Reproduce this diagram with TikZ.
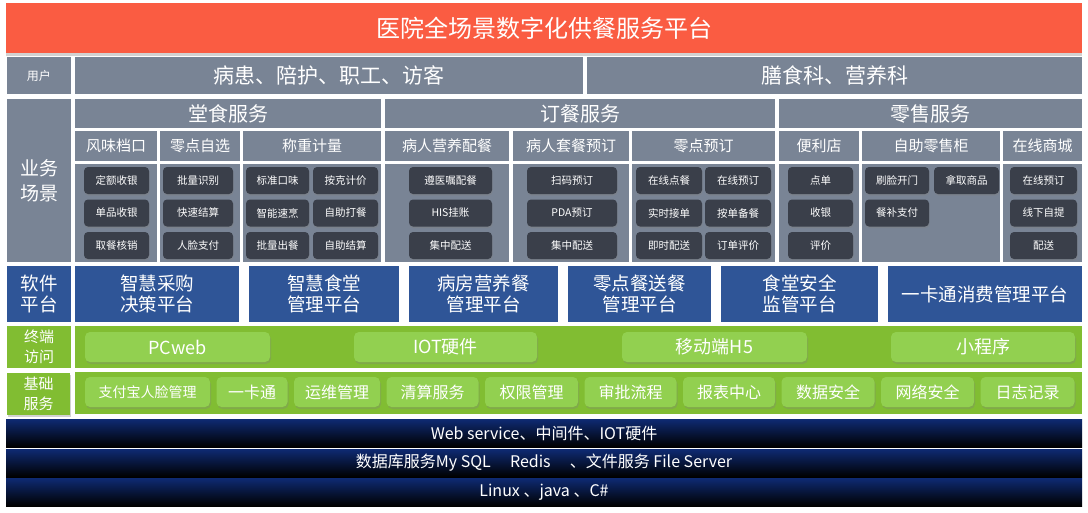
\documentclass[tikz,border=0pt]{standalone}
\usepackage{fontspec}
\setmainfont{Noto Sans CJK SC}
\usepackage{xcolor}
\usepackage{tikz}
\usetikzlibrary{positioning,shadows}

\definecolor{titlered}{RGB}{250,92,66}
\definecolor{slate}{RGB}{121,132,149}
\definecolor{darkbtn}{RGB}{58,63,74}
\definecolor{platblue}{RGB}{47,85,151}
\definecolor{leafgreen}{RGB}{129,189,50}
\definecolor{lightgreen}{RGB}{146,208,80}
\definecolor{navytop}{RGB}{14,42,115}

\newcommand\fsz[2]{\fontsize{#1}{#2}\selectfont}

\begin{document}
\begin{tikzpicture}[x=1pt, y=-1pt,
    cell/.style={inner sep=0pt, outer sep=0pt, anchor=north west,
                 text=white, align=center},
    wh/.style 2 args={minimum width=#1pt, minimum height=#2pt},
    ttl/.style={cell, fill=titlered, font=\fsz{24}{28},
                drop shadow={shadow xshift=0pt, shadow yshift=-2.5pt, opacity=0.35}},
    gry/.style={cell, fill=slate},
    hdr/.style={gry, font=\fsz{20}{24}},
    sub/.style={gry, font=\fsz{15}{18}},
    dbtn/.style={cell, fill=darkbtn, rounded corners=4pt, font=\fsz{10.5}{12},
                 drop shadow={shadow xshift=0.5pt, shadow yshift=-1.5pt, opacity=0.4}},
    plat/.style={cell, fill=platblue, font=\fsz{18.5}{21}},
    greenrow/.style={cell, fill=leafgreen, font=\fsz{15}{20}},
    gbtn/.style={cell, fill=lightgreen, rounded corners=5pt, font=\fsz{16}{19},
                 drop shadow={shadow xshift=1pt, shadow yshift=-2pt, opacity=0.3}},
    base/.style={cell, top color=navytop, middle color=black, bottom color=black,
                 font=\fsz{16}{19}}
  ]
  \useasboundingbox[fill=white] (0,0) rectangle (1088,512);

  % title
  \node[ttl, wh={1076}{50}] (title) at (6,3) {医院全场景数字化供餐服务平台};

  % users
  \node[gry, wh={64}{37}, font=\fsz{12}{14}] (userlbl) at (7,57) {用户};
  \node[hdr, wh={508}{37}, font=\fsz{21}{25}] (patients) at (75,57) {病患、陪护、职工、访客};
  \node[hdr, wh={495}{37}, font=\fsz{21}{25}] (dietary) at (587,57) {膳食科、营养科};

  % business scenes
  \node[gry, wh={64}{163}, font=\fsz{19}{25}] (bizlbl) at (7,99) {业务\\场景};
  \node[hdr, wh={306}{29}] (dine) at (75,99) {堂食服务};
  \node[hdr, wh={390}{29}] (order) at (385,99) {订餐服务};
  \node[hdr, wh={303}{29}] (retail) at (779,99) {零售服务};

  \node[sub, wh={82}{30}] (flavor) at (75,131) {风味档口};
  \node[sub, wh={80}{30}] (snack) at (160,131) {零点自选};
  \node[sub, wh={138}{30}] (weigh) at (243,131) {称重计量};
  \node[sub, wh={124}{30}] (nutri) at (385,131) {病人营养配餐};
  \node[sub, wh={116}{30}] (setmeal) at (513,131) {病人套餐预订};
  \node[sub, wh={143}{30}] (snackord) at (632,131) {零点预订};
  \node[sub, wh={80}{30}] (store) at (779,131) {便利店};
  \node[sub, wh={138}{30}] (locker) at (862,131) {自助零售柜};
  \node[sub, wh={79}{30}] (mall) at (1003,131) {在线商城};

  \node[gry, wh={82}{98}] (flavorbg) at (75,164) {};
  \node[gry, wh={80}{98}] (snackbg) at (160,164) {};
  \node[gry, wh={138}{98}] (weighbg) at (243,164) {};
  \node[gry, wh={124}{98}] (nutribg) at (385,164) {};
  \node[gry, wh={116}{98}] (setmealbg) at (513,164) {};
  \node[gry, wh={143}{98}] (snackordbg) at (632,164) {};
  \node[gry, wh={80}{98}] (storebg) at (779,164) {};
  \node[gry, wh={138}{98}] (lockerbg) at (862,164) {};
  \node[gry, wh={79}{98}] (mallbg) at (1003,164) {};

  % scene buttons
  \node[dbtn, wh={65}{27}] (fw1) at (84,167) {定额收银};
  \node[dbtn, wh={65}{27}, below=5.5pt of fw1] (fw2) {单品收银};
  \node[dbtn, wh={65}{27}, below=5.5pt of fw2] (fw3) {取餐核销};

  \node[dbtn, wh={70}{27}] (lz1) at (163,167) {批量识别};
  \node[dbtn, wh={70}{27}, below=5.5pt of lz1] (lz2) {快速结算};
  \node[dbtn, wh={70}{27}, below=5.5pt of lz2] (lz3) {人脸支付};

  \node[dbtn, wh={63}{27}] (cz1) at (246,167) {标准口味};
  \node[dbtn, wh={63}{27}, below=5.5pt of cz1] (cz2) {智能速烹};
  \node[dbtn, wh={63}{27}, below=5.5pt of cz2] (cz3) {批量出餐};
  \node[dbtn, wh={65}{27}] (cz4) at (313,167) {按克计价};
  \node[dbtn, wh={65}{27}, below=5.5pt of cz4] (cz5) {自助打餐};
  \node[dbtn, wh={65}{27}, below=5.5pt of cz5] (cz6) {自助结算};

  \node[dbtn, wh={83}{27}] (by1) at (409,167) {遵医嘱配餐};
  \node[dbtn, wh={83}{27}, below=5.5pt of by1] (by2) {HIS挂账};
  \node[dbtn, wh={83}{27}, below=5.5pt of by2] (by3) {集中配送};

  \node[dbtn, wh={90}{27}] (bt1) at (527,167) {扫码预订};
  \node[dbtn, wh={90}{27}, below=5.5pt of bt1] (bt2) {PDA预订};
  \node[dbtn, wh={90}{27}, below=5.5pt of bt2] (bt3) {集中配送};

  \node[dbtn, wh={66}{27}] (lx1) at (636,167) {在线点餐};
  \node[dbtn, wh={66}{27}, below=5.5pt of lx1] (lx2) {实时接单};
  \node[dbtn, wh={66}{27}, below=5.5pt of lx2] (lx3) {即时配送};
  \node[dbtn, wh={66}{27}] (lx4) at (705,167) {在线预订};
  \node[dbtn, wh={66}{27}, below=5.5pt of lx4] (lx5) {按单备餐};
  \node[dbtn, wh={66}{27}, below=5.5pt of lx5] (lx6) {订单评价};

  \node[dbtn, wh={65}{27}] (bl1) at (788,167) {点单};
  \node[dbtn, wh={65}{27}, below=5.5pt of bl1] (bl2) {收银};
  \node[dbtn, wh={65}{27}, below=5.5pt of bl2] (bl3) {评价};

  \node[dbtn, wh={64}{27}] (zz1) at (865,167) {刷脸开门};
  \node[dbtn, wh={64}{27}, below=5.5pt of zz1] (zz2) {餐补支付};
  \node[dbtn, wh={65}{27}] (zz3) at (934,167) {拿取商品};

  \node[dbtn, wh={67}{27}] (zx1) at (1010,167) {在线预订};
  \node[dbtn, wh={67}{27}, below=5.5pt of zx1] (zx2) {线下自提};
  \node[dbtn, wh={67}{27}, below=5.5pt of zx2] (zx3) {配送};

  % software platforms
  \node[plat, wh={64}{56}] (softlbl) at (7,266) {软件\\平台};
  \node[plat, wh={164}{56}] (purchase) at (75,266) {智慧采购\\决策平台};
  \node[plat, wh={150}{56}] (canteen) at (249,266) {智慧食堂\\管理平台};
  \node[plat, wh={149}{56}] (ward) at (409,266) {病房营养餐\\管理平台};
  \node[plat, wh={143}{56}] (delivery) at (568,266) {零点餐送餐\\管理平台};
  \node[plat, wh={157}{56}] (safety) at (721,266) {食堂安全\\监管平台};
  \node[plat, wh={194}{56}] (card) at (888,266) {一卡通消费管理平台};

  % terminals
  \node[greenrow, wh={64}{42}] (termlbl) at (7,326) {终端\\访问};
  \node[greenrow, wh={1007}{42}] (termbg) at (75,326) {};
  \node[gbtn, wh={185}{30}, font=\fsz{18}{21}] (pcweb) at (85,332) {PCweb};
  \node[gbtn, wh={183}{30}, font=\fsz{18}{21}] (iot) at (354,332) {IOT硬件};
  \node[gbtn, wh={185}{30}, font=\fsz{18}{21}] (mobile) at (622,332) {移动端H5};
  \node[gbtn, wh={184}{30}, font=\fsz{18}{21}] (mini) at (891,332) {小程序};

  % basic services
  \node[greenrow, wh={63}{42},
        drop shadow={shadow xshift=1pt, shadow yshift=-2pt, opacity=0.35}] (baselbl) at (7,373) {基础\\服务};
  \node[greenrow, wh={1007}{42}] (basebg) at (75,372) {};
  \node[gbtn, wh={125}{30}, font=\fsz{14}{17}] (alipay) at (85,377) {支付宝人脸管理};
  \node[gbtn, wh={71}{30}, right=6.5pt of alipay] (onecard) {一卡通};
  \node[gbtn, wh={86}{30}, right=6.5pt of onecard] (ops) {运维管理};
  \node[gbtn, wh={92}{30}, right=6.5pt of ops] (clearing) {清算服务};
  \node[gbtn, wh={93}{30}, right=6.5pt of clearing] (perm) {权限管理};
  \node[gbtn, wh={92}{30}, right=6.5pt of perm] (approve) {审批流程};
  \node[gbtn, wh={92}{30}, right=6.5pt of approve] (report) {报表中心};
  \node[gbtn, wh={93}{30}, right=6.5pt of report] (datasec) {数据安全};
  \node[gbtn, wh={93}{30}, right=6.5pt of datasec] (netsec) {网络安全};
  \node[gbtn, wh={94}{30}, right=6.5pt of netsec] (logrec) {日志记录};

  % infrastructure
  \node[base, wh={1076}{28}] (middleware) at (6,419) {Web service、中间件、IOT硬件};
  \node[base, wh={1076}{28}] (storage) at (6,449)
        {数据库服务My SQL\hspace{1.2em}Redis\hspace{1.2em}、文件服务 File Server};
  \node[base, wh={1076}{28}] (runtime) at (6,478) {Linux 、java 、C\#};
\end{tikzpicture}
\end{document}
